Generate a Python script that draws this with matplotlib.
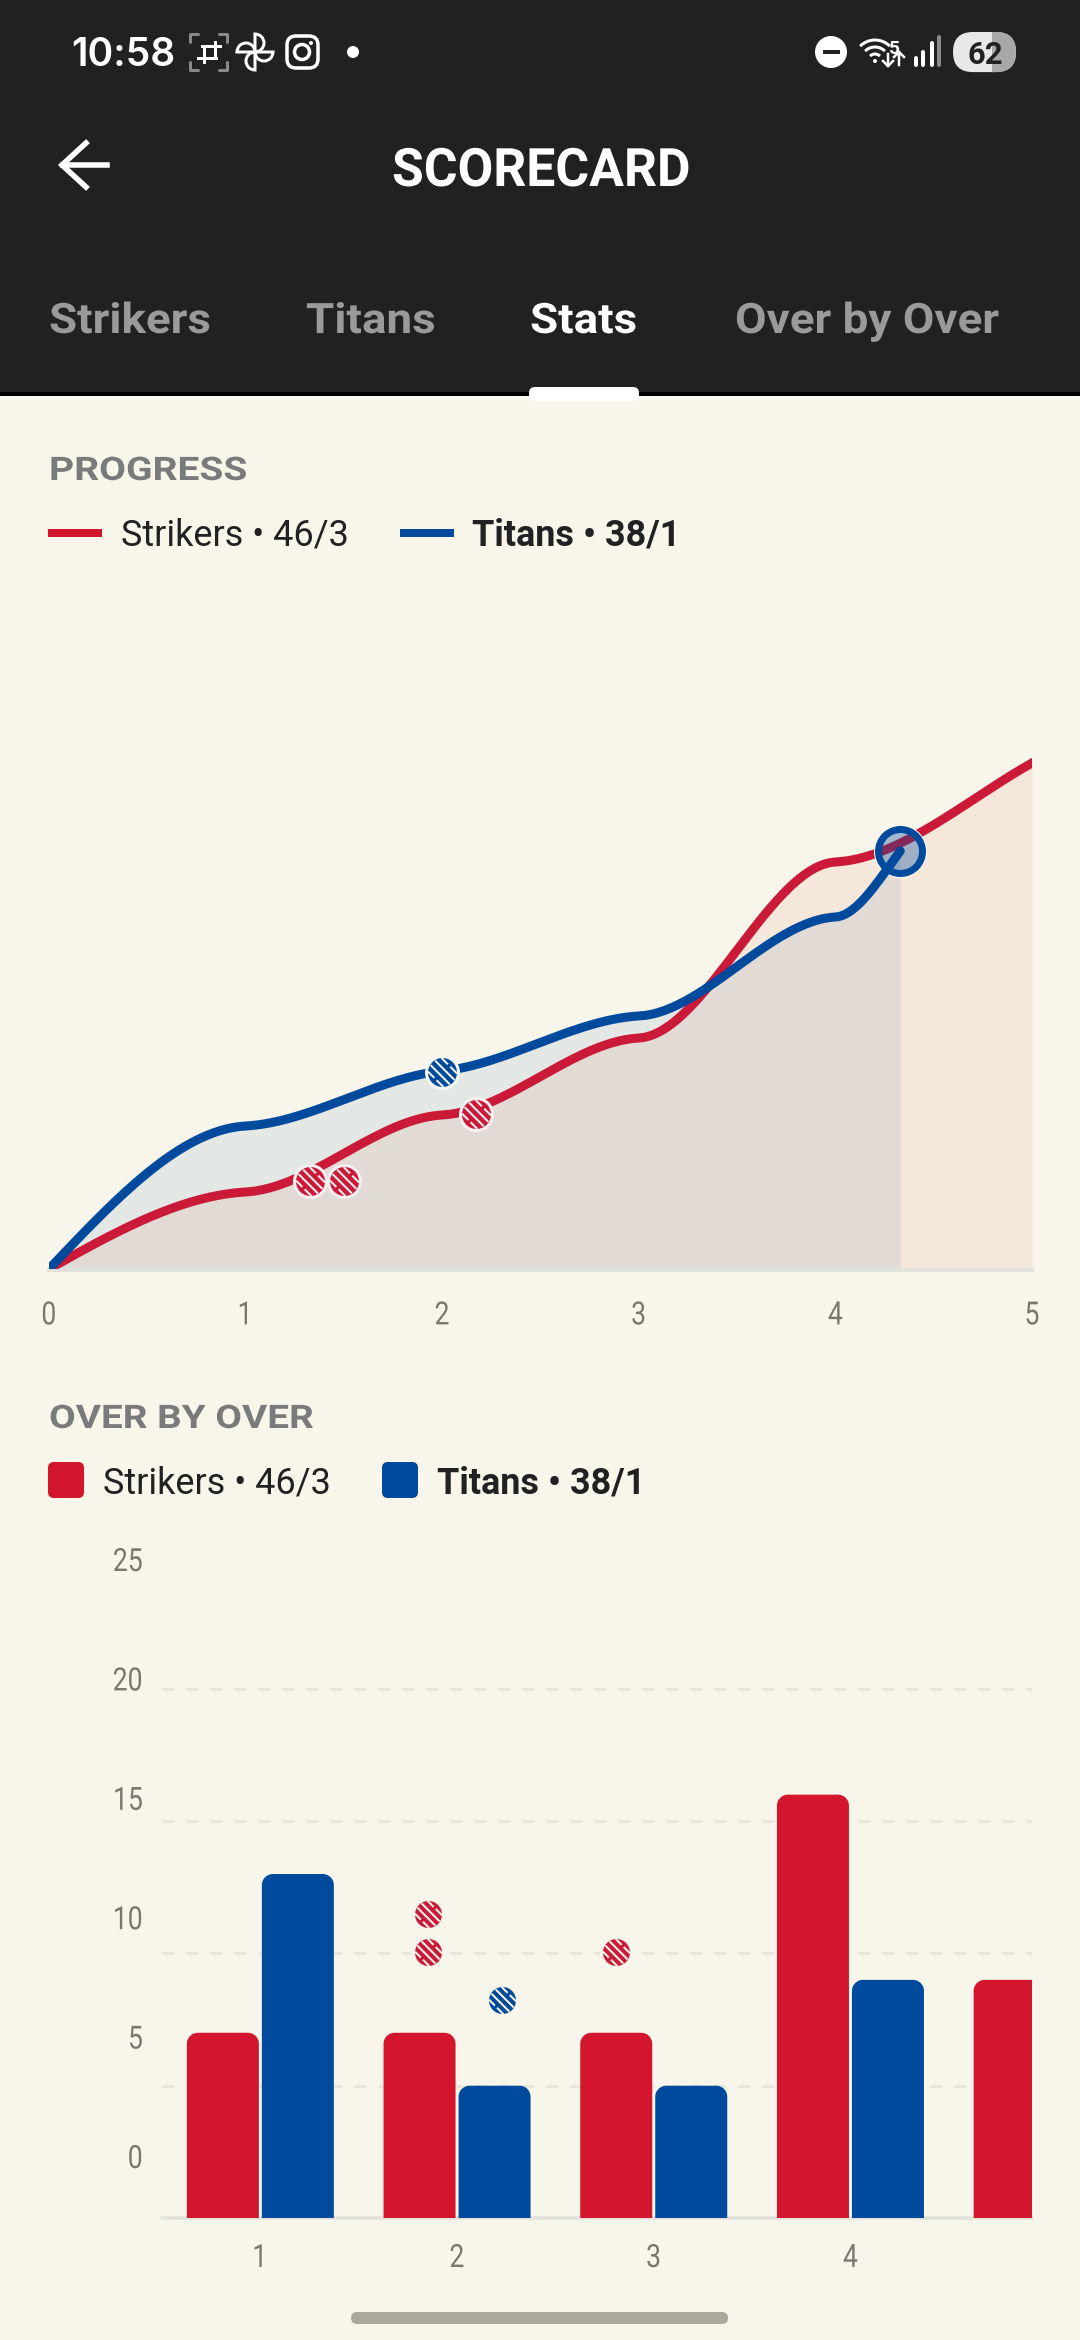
import numpy as np
import matplotlib
matplotlib.use('Agg')
import matplotlib.pyplot as plt
from matplotlib.patches import Arc, Circle, FancyBboxPatch, PathPatch, Rectangle, Wedge
from matplotlib.patheffects import AbstractPathEffect
from matplotlib.path import Path
from matplotlib.transforms import Affine2D

# progress chart: score at each over end, and how steep the curve is there (runs per over)
red_overs = [0, 1, 2, 3, 4, 5]
red_runs = [0, 7, 14, 21, 37, 46]
red_slopes = [10, 1, 1, 1, 1, 10]
blue_overs = [0, 1, 2, 3, 4, 4.33]
blue_runs = [0, 13, 18, 23, 32, 38]
blue_slopes = [18.8, 1, 1.8, 1, 1, 24]
red_wickets_x = [1.33, 1.5, 2.17]
red_wickets_y = [8, 8, 14.1]
blue_wickets_x = [2]
blue_wickets_y = [17.9]
progress_ticks = [0, 1, 2, 3, 4, 5]

# over by over chart
red_over_num = [1, 2, 3, 4, 5]
red_over_runs = [7, 7, 7, 16, 9]
blue_over_num = [1, 2, 3, 4]
blue_over_runs = [13, 5, 5, 9]
bar_red_wkt_x = [1.85, 1.85, 2.81]
bar_red_wkt_y = [11.5, 10.05, 10.05]
bar_blue_wkt_x = [2.23]
bar_blue_wkt_y = [8.25]
over_ticks = [1, 2, 3, 4]
grid_lines = [5, 10, 15, 20]
run_labels = [0, 5, 10, 15, 20, 25]

BG = '#F8F6EA'
DARK = '#212121'
RED = '#D3162D'
BLUE = '#004A9E'
LINE_RED = '#CB1A38'
GREY = '#7A776F'
W, H = 1080, 2340
SANS = ['Roboto', 'DejaVu Sans']


class Squeeze(AbstractPathEffect):
    # the app font is condensed/tracked, none installed is, so scale the glyphs sideways
    def __init__(self, sx, anchor='left'):
        super().__init__()
        self.sx = sx
        self.anchor = anchor

    def draw_path(self, renderer, gc, tpath, affine, rgbFace=None):
        x = tpath.vertices[:, 0]
        a = {'left': x.min(), 'center': (x.min() + x.max()) / 2, 'right': x.max()}[self.anchor]
        t = Affine2D().translate(-a, 0).scale(self.sx, 1).translate(a, 0)
        renderer.draw_path(gc, tpath, t + affine, rgbFace)


def px(v):
    return v * 0.72


def axes_px(left, top, right, bottom):
    return fig.add_axes([left / W, 1 - bottom / H, (right - left) / W, (bottom - top) / H])


def smooth(x, y, m, n=60):
    xs, ys = [], []
    for i in range(len(x) - 1):
        t = np.linspace(0, 1, n, endpoint=False)
        h = x[i + 1] - x[i]
        xs.append(x[i] + t * h)
        ys.append((2 * t**3 - 3 * t**2 + 1) * y[i] + (t**3 - 2 * t**2 + t) * h * m[i]
                  + (-2 * t**3 + 3 * t**2) * y[i + 1] + (t**3 - t**2) * h * m[i + 1])
    xs.append([x[-1]])
    ys.append([y[-1]])
    return np.concatenate(xs), np.concatenate(ys)


def ball_marker():
    verts = [(1, 1)]
    codes = [Path.MOVETO]
    pieces = [(-0.2, -0.85, 0.85), (0.2, -0.85, 0.85),
              (-0.6, -0.68, -0.12), (-0.6, 0.08, 0.68), (0.6, -0.68, -0.12), (0.6, 0.08, 0.68)]
    for off, a, b in pieces:
        for s, c in ((a, Path.MOVETO), (b, Path.LINETO)):
            verts.append(((s + off) * 0.707, (-s + off) * 0.707))
            codes.append(c)
    return Path(verts, codes)


def draw_balls(ax, xs, ys, color, halo, size, z=6):
    ax.plot(xs, ys, ls='none', marker='o', ms=px(size), mfc=color, mec=halo, mew=px(3), zorder=z, clip_on=False)
    ax.plot(xs, ys, ls='none', marker=ball_marker(), ms=px(size), mfc='none', mec=halo, mew=px(2),
            zorder=z + 1, clip_on=False)


def rounded_bar(ax, left, width, height, color, rx, ry):
    right = left + width
    k = 0.45
    verts = [(left, 0), (left, height - ry),
             (left, height - ry * k), (left + rx * k, height), (left + rx, height),
             (right - rx, height),
             (right - rx * k, height), (right, height - ry * k), (right, height - ry),
             (right, 0), (left, 0)]
    codes = [Path.MOVETO, Path.LINETO, Path.CURVE4, Path.CURVE4, Path.CURVE4, Path.LINETO,
             Path.CURVE4, Path.CURVE4, Path.CURVE4, Path.LINETO, Path.CLOSEPOLY]
    ax.add_patch(PathPatch(Path(verts, codes), fc=color, ec='none', zorder=3))


def squeeze_ticks(labels, sx, anchor):
    for t in labels:
        t.set_family(SANS)
        t.set_path_effects([Squeeze(sx, anchor)])


fig = plt.figure(figsize=(W / 100, H / 100), dpi=100, facecolor=BG)

# everything that is app chrome goes on one axes in screen pixels
ui = fig.add_axes([0, 0, 1, 1])
ui.set_xlim(0, W)
ui.set_ylim(H, 0)
ui.axis('off')

ui.add_patch(Rectangle((0, 0), W, 393, fc=DARK, ec='none'))
ui.add_patch(Rectangle((0, 392), W, 4, fc='#000000', ec='none'))
ui.add_patch(FancyBboxPatch((533, 391), 102, 6, boxstyle='round,pad=4,rounding_size=6', fc='white', ec='none'))

# status bar
ui.text(71, 66, '10:58', color='white', fontsize=px(39), fontweight='semibold', family=['Inter', 'DejaVu Sans'])
for cx, cy, dx, dy in [(190, 34, 1, 1), (227, 34, -1, 1), (190, 70, 1, -1), (227, 70, -1, -1)]:
    ui.plot([cx + 8 * dx, cx, cx], [cy, cy, cy + 8 * dy], color='#8A8A8A', lw=px(3), solid_capstyle='round')
ui.plot([202, 220], [46, 46], color='white', lw=px(3))
ui.plot([198, 216], [58, 58], color='white', lw=px(3))
ui.plot([204, 204], [46, 62], color='white', lw=px(3))
ui.plot([215, 215], [42, 58], color='white', lw=px(3))
for ang in [0, 90, 180, 270]:
    a = np.deg2rad(ang)
    ui.add_patch(Wedge((255 + 9 * np.cos(a), 52 + 9 * np.sin(a)), 9, ang, ang + 180, fill=False, ec='white', lw=px(3)))
ui.add_patch(FancyBboxPatch((292, 41), 21, 22, boxstyle='round,pad=5,rounding_size=9', fill=False, ec='white', lw=px(3.5)))
ui.add_patch(Circle((302, 52), 7.5, fill=False, ec='white', lw=px(3.5)))
ui.add_patch(Circle((311, 43), 2, fc='white', ec='none'))
ui.add_patch(Circle((353, 52), 6, fc='white', ec='none'))
ui.add_patch(Circle((831, 52), 16, fc='white', ec='none'))
ui.add_patch(Rectangle((823, 50), 17, 4, fc=DARK, ec='none'))
for r in [7, 14, 21]:
    ui.add_patch(Arc((875, 61), 2 * r, 2 * r, theta1=225, theta2=315, ec='white', lw=px(3)))
ui.add_patch(Circle((875, 61), 2, fc='white', ec='none'))
ui.text(894, 54, '5', color='white', fontsize=px(19), ha='center', fontweight='bold', family=SANS)
ui.plot([888, 888], [54, 66], color='white', lw=px(2.5))
ui.plot([883, 888, 893], [61, 66, 61], color='white', lw=px(2.5))
ui.plot([899, 899], [52, 65], color='white', lw=px(2.5))
ui.plot([894, 899, 904], [57, 52, 57], color='white', lw=px(2.5))
for bar_x, top, col in [(916, 58, 'white'), (923, 52, 'white'), (932, 43, 'white'), (939, 37, '#8A8A8A')]:
    ui.plot([bar_x, bar_x], [top, 65], color=col, lw=px(4), solid_capstyle='round')
pill = FancyBboxPatch((973, 52), 23, 0.1, boxstyle='round,pad=20,rounding_size=20', fc='#E8E8E8', ec='none')
ui.add_patch(pill)
side = Rectangle((992, 30), 30, 44, fc='#A8A8A8', ec='none')
ui.add_patch(side)
side.set_clip_path(pill)
ui.text(985, 52, '62', color=DARK, fontsize=px(31), fontweight='bold', ha='center', va='center_baseline', family=SANS)

# title row and tabs
ui.plot([86, 62, 86], [143, 165, 187], color='white', lw=px(5.5), solid_joinstyle='miter')
ui.plot([63, 107], [165, 165], color='white', lw=px(5.5))
ui.text(392, 186, 'SCORECARD', color='white', fontsize=px(53), fontweight='bold', family=SANS,
        path_effects=[Squeeze(0.975)])
tab_labels = ['Strikers', 'Titans', 'Stats', 'Over by Over']
tab_left = [49, 306, 530, 735]
tab_colors = ['#9A9A9A', '#9A9A9A', 'white', '#9A9A9A']
for lab_text, lx, col in zip(tab_labels, tab_left, tab_colors):
    ui.text(lx, 333, lab_text, color=col, fontsize=px(42), fontweight='bold', family=SANS,
            path_effects=[Squeeze(1.09)])

# section headings and legends
ui.text(49, 480, 'PROGRESS', color='#7A7A7A', fontsize=px(32.5), fontweight='bold', family=SANS,
        path_effects=[Squeeze(1.2)])
ui.add_patch(Rectangle((48, 529), 54, 8, fc=RED, ec='none'))
ui.text(121, 546, 'Strikers • 46/3', color=DARK, fontsize=px(36), family=SANS)
ui.add_patch(Rectangle((400, 529), 54, 8, fc=BLUE, ec='none'))
ui.text(472, 546, 'Titans • 38/1', color=DARK, fontsize=px(36), fontweight='bold', family=SANS)

ui.text(49, 1428, 'OVER BY OVER', color='#7A7A7A', fontsize=px(32.5), fontweight='bold', family=SANS,
        path_effects=[Squeeze(1.19)])
ui.add_patch(FancyBboxPatch((53, 1467), 26, 26, boxstyle='round,pad=5,rounding_size=6', fc=RED, ec='none'))
ui.text(103, 1494, 'Strikers • 46/3', color=DARK, fontsize=px(36), family=SANS)
ui.add_patch(FancyBboxPatch((387, 1467), 26, 26, boxstyle='round,pad=5,rounding_size=6', fc=BLUE, ec='none'))
ui.text(437, 1494, 'Titans • 38/1', color=DARK, fontsize=px(36), fontweight='bold', family=SANS)

# home indicator
ui.add_patch(FancyBboxPatch((351, 2312), 377, 12, boxstyle='round,pad=0,rounding_size=6', fc='#ABA99A', ec='none'))

# progress chart, 11 px per run
ax = axes_px(49, 600, 1032, 1269)
ax.patch.set_alpha(0)
for s in ['top', 'left', 'right']:
    ax.spines[s].set_visible(False)
ax.spines['bottom'].set_color('#E2E2DC')
ax.spines['bottom'].set_linewidth(px(4))
# set_position resets the ticks, so it has to come before the tick styling
ax.spines['bottom'].set_position(('outward', 1))
ax.set_xlim(0, 5)
ax.set_ylim(0, (1269 - 600) / 11)
rx, ry = smooth(red_overs, red_runs, red_slopes)
bx, by = smooth(blue_overs, blue_runs, blue_slopes)
ax.fill_between(rx, 0, ry, color='#DC3A20', alpha=0.08, lw=0)
ax.fill_between(bx, 0, by, color=BLUE, alpha=0.08, lw=0)
ax.plot(rx, ry, color=LINE_RED, lw=px(9), zorder=3)
ax.plot(blue_overs[-1], blue_runs[-1], marker='o', ms=px(51), mfc='none', mec='#FBF8F0', mew=px(2), zorder=3)
ax.plot(blue_overs[-1], blue_runs[-1], marker='o', ms=px(44), mfc=(0, 0.29, 0.62, 0.35), mec=BLUE, mew=px(7), zorder=4)
ax.plot(bx, by, color=BLUE, lw=px(9), zorder=5, solid_capstyle='round')
draw_balls(ax, red_wickets_x, red_wickets_y, LINE_RED, '#F8EFF0', 32)
draw_balls(ax, blue_wickets_x, blue_wickets_y, BLUE, '#F4F6F4', 32)
ax.set_xticks(progress_ticks)
ax.set_yticks([])
ax.tick_params(axis='x', length=0, pad=px(31), labelsize=px(32), labelcolor=GREY)
squeeze_ticks(ax.get_xticklabels(), 0.83, 'center')

# over by over chart, 26.46 px per run, one over is 196.7 px
bar_top = 1540
bax = axes_px(162, bar_top, 1032, 2218)
bax.patch.set_alpha(0)
bax.set_xlim(0.5, 4.923)
bax.set_ylim(0, (2218 - bar_top) / 26.46)
bar_w = 72 / 196.7
gap = 37.5 / 196.7
rad_x, rad_y = 11 / 196.7, 11 / 26.46
for n, runs in zip(red_over_num, red_over_runs):
    rounded_bar(bax, n - gap - bar_w / 2, bar_w, runs, RED, rad_x, rad_y)
for n, runs in zip(blue_over_num, blue_over_runs):
    rounded_bar(bax, n + gap - bar_w / 2, bar_w, runs, BLUE, rad_x, rad_y)
draw_balls(bax, bar_red_wkt_x, bar_red_wkt_y, LINE_RED, BG, 30)
draw_balls(bax, bar_blue_wkt_x, bar_blue_wkt_y, BLUE, BG, 30)
bax.set_yticks(grid_lines)
bax.set_yticklabels([])
bax.grid(axis='y', color='#E9E7DC', linewidth=px(3), linestyle=(0, (4, 4)))
bax.set_axisbelow(True)
bax.set_xticks(over_ticks)
bax.tick_params(axis='both', length=0)
bax.tick_params(axis='x', pad=px(26), labelsize=px(32), labelcolor=GREY)
squeeze_ticks(bax.get_xticklabels(), 0.83, 'center')
for s in ['top', 'left', 'right']:
    bax.spines[s].set_visible(False)
bax.spines['bottom'].set_color('#E2E2DC')
bax.spines['bottom'].set_linewidth(px(3.5))

# the run labels do not line up with the grid in the app, so they get their own scale
lab = bax.twinx()
lab.set_ylim((2156.5 - 2218) / 23.88, (2156.5 - bar_top) / 23.88)
lab.set_yticks(run_labels)
lab.yaxis.tick_left()
lab.tick_params(axis='y', length=0, pad=px(19), labelsize=px(32), labelcolor=GREY)
squeeze_ticks(lab.get_yticklabels(), 0.83, 'right')
for s in lab.spines.values():
    s.set_visible(False)

fig.savefig('out.png', dpi=100, facecolor=BG)
